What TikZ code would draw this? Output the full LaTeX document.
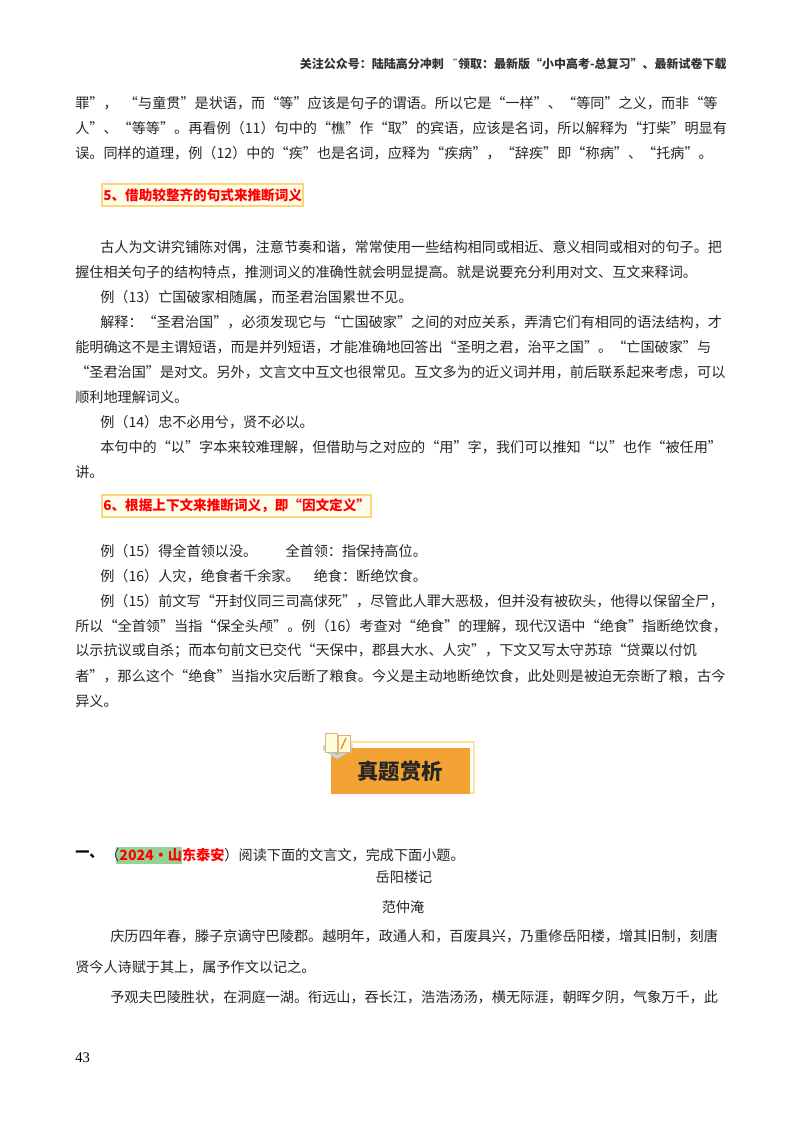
\documentclass[tikz,border=0pt]{standalone}
\usepackage{fontspec}
\setmainfont{Noto Sans CJK SC}
\newfontfamily\numfont{Liberation Serif}
\newfontfamily\symfont{DejaVu Sans}
\definecolor{hdorange}{RGB}{243,163,51}
\definecolor{boxyel}{RGB}{252,214,120}
\definecolor{hlgreen}{RGB}{150,210,150}
\begin{document}
\begin{tikzpicture}[x=0.75pt,y=-0.75pt,
  body/.style={anchor=west,inner sep=0pt,font=\fontsize{10.6pt}{12pt}\selectfont,text=black!85},
  ctr/.style={inner sep=0pt,font=\fontsize{10.6pt}{12pt}\selectfont,text=black!85},
  headbox/.style={draw=boxyel,line width=1.5pt,fill=yellow!8,anchor=west,inner xsep=1pt,inner ysep=3pt,text=red,font=\fontsize{10.2pt}{12pt}\selectfont\bfseries}]
\useasboundingbox (0,0) rectangle (800,1132);
\fill[white] (0,0) rectangle (800,1132);
\node[anchor=east,inner sep=0pt,font=\fontsize{9pt}{10pt}\selectfont\bfseries,text=black!80] (hdr) at (727,64) {关注公众号：陆陆高分冲刺\ \ \ {\symfont\mdseries ˜}领取：最新版“小中高考-总复习”、最新试卷下载};
\node[body] (p1) at (75,103) {罪”，\ \ “与童贯”是状语，而“等”应该是句子的谓语。所以它是“一样”、“等同”之义，而非“等};
\node[body] (p2) at (75,128) {人”、“等等”。再看例（11）句中的“樵”作“取”的宾语，应该是名词，所以解释为“打柴”明显有};
\node[body] (p3) at (75,153) {误。同样的道理，例（12）中的“疾”也是名词，应释为“疾病”，“辞疾”即“称病”、“托病”。};
\node[headbox] (h5) at (101,195) {5、借助较整齐的句式来推断词义};
\node[body] (q1) at (100,247) {古人为文讲究铺陈对偶，注意节奏和谐，常常使用一些结构相同或相近、意义相同或相对的句子。把};
\node[body] (q2) at (75,272) {握住相关句子的结构特点，推测词义的准确性就会明显提高。就是说要充分利用对文、互文来释词。};
\node[body] (q3) at (100,297) {例（13）亡国破家相随属，而圣君治国累世不见。};
\node[body] (q4) at (100,322) {解释：“圣君治国”，必须发现它与“亡国破家”之间的对应关系，弄清它们有相同的语法结构，才};
\node[body] (q5) at (75,347) {能明确这不是主谓短语，而是并列短语，才能准确地回答出“圣明之君，治平之国”。“亡国破家”与};
\node[body] (q6) at (75,372) {“圣君治国”是对文。另外，文言文中互文也很常见。互文多为的近义词并用，前后联系起来考虑，可以};
\node[body] (q7) at (75,397) {顺利地理解词义。};
\node[body] (q8) at (100,422) {例（14）忠不必用兮，贤不必以。};
\node[body] (q9) at (100,447) {本句中的“以”字本来较难理解，但借助与之对应的“用”字，我们可以推知“以”也作“被任用”};
\node[body] (q10) at (75,472) {讲。};
\node[headbox] (h6) at (101,506) {6、根据上下文来推断词义，即“因文定义”};
\node[body] (r1) at (100,551) {例（15）得全首领以没。\qquad 全首领：指保持高位。};
\node[body] (r2) at (100,576) {例（16）人灾，绝食者千余家。\quad 绝食：断绝饮食。};
\node[body] (r3) at (100,601) {例（15）前文写“开封仪同三司高俅死”，尽管此人罪大恶极，但并没有被砍头，他得以保留全尸，};
\node[body] (r4) at (75,626) {所以“全首领”当指“保全头颅”。例（16）考查对“绝食”的理解，现代汉语中“绝食”指断绝饮食，};
\node[body] (r5) at (75,651) {以示抗议或自杀；而本句前文已交代“天保中，郡县大水、人灾”，下文又写太守苏琼“贷粟以付饥};
\node[body] (r6) at (75,676) {者”，那么这个“绝食”当指水灾后断了粮食。今义是主动地断绝饮食，此处则是被迫无奈断了粮，古今};
\node[body] (r7) at (75,701) {异义。};
% badge
\draw[boxyel!70,line width=0.8pt] (352,742) rectangle (474,793);
\fill[hdorange] (331,748) rectangle (470,794);
\fill[cyan!40!gray!40] (323,745) -- (337,755) -- (352,745) -- (352,750) -- (337,759) -- (323,750) -- cycle;
\fill[yellow!15] (325,733) rectangle (337,752);
\fill[yellow!15] (338,735) rectangle (350,752);
\draw[brown!60,line width=0.4pt] (325,733) rectangle (337,752) (338,735) rectangle (350,752);
\draw[orange,line width=1pt] (346,738) -- (341,749);
\node[inner sep=0pt,font=\fontsize{16pt}{18pt}\selectfont\bfseries,text=black!85] (badge) at (400,771) {真题赏析};
% question
\node[anchor=west,inner sep=0pt,font=\fontsize{10.6pt}{12pt}\selectfont\bfseries] (yi) at (75,855) {一、};
\fill[hlgreen] (116,847) rectangle (182,864);
\node[body] (qq) at (105,855) {（\textcolor{red}{\bfseries 2024\textbullet 山东泰安}）阅读下面的文言文，完成下面小题。};
\node[ctr] (title) at (404,877) {岳阳楼记};
\node[ctr] (auth) at (403,907) {范仲淹};
\node[body] (s1) at (110,936) {庆历四年春，滕子京谪守巴陵郡。越明年，政通人和，百废具兴，乃重修岳阳楼，增其旧制，刻唐};
\node[body] (s2) at (75,967) {贤今人诗赋于其上，属予作文以记之。};
\node[body] (s3) at (110,997) {予观夫巴陵胜状，在洞庭一湖。衔远山，吞长江，浩浩汤汤，横无际涯，朝晖夕阴，气象万千，此};
\node[anchor=west,inner sep=0pt,font=\numfont\fontsize{11pt}{12pt}\selectfont] (pg) at (75,1058) {43};
\end{tikzpicture}
\end{document}
